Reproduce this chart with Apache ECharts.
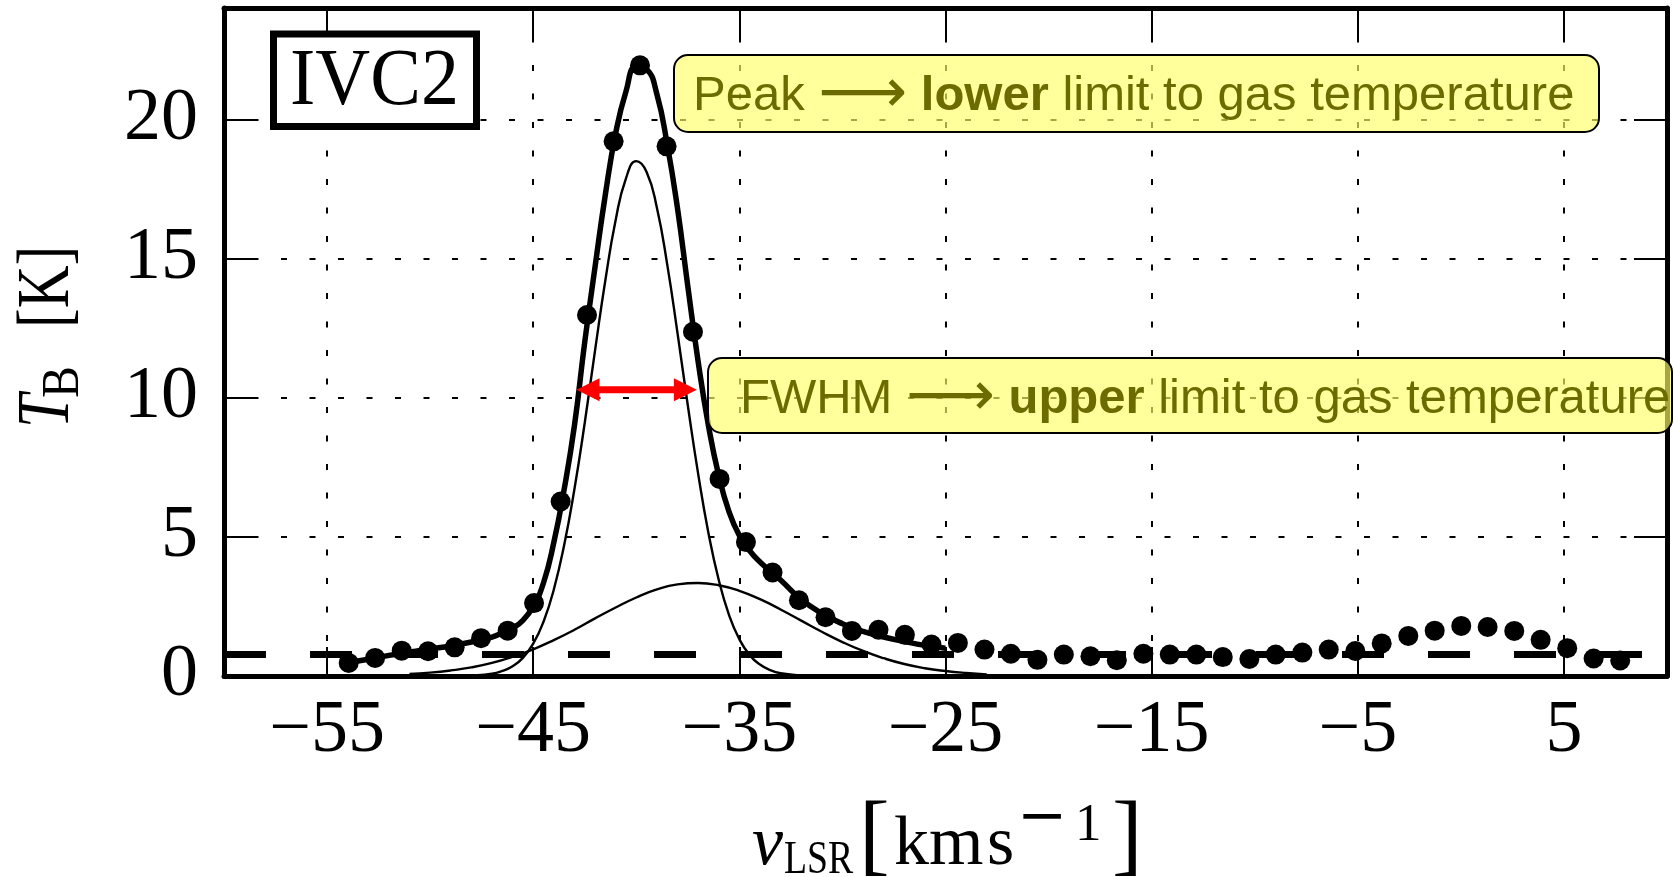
<!DOCTYPE html>
<html>
<head>
<meta charset="utf-8">
<script src="https://cdn.jsdelivr.net/npm/echarts@6/dist/echarts.min.js"></script>
<style>
  html, body { margin: 0; padding: 0; background: #ffffff; }
  #chart { width: 1674px; height: 877px; }
</style>
</head>
<body>
<div id="chart"></div>
<script>
// HI emission profile towards IVC2 with its two-component Gaussian decomposition

// Observed channels: LSR velocity [km/s] and brightness temperature [K]
const velocity = [
  -53.95, -52.67, -51.38, -50.10, -48.81, -47.53, -46.24, -44.96, -43.67, -42.39,
  -41.10, -39.82, -38.53, -37.25, -35.96, -34.68, -33.39, -32.11, -30.82, -29.54,
  -28.25, -26.97, -25.68, -24.40, -23.11, -21.83, -20.54, -19.26, -17.97, -16.69,
  -15.40, -14.12, -12.83, -11.55, -10.26, -8.98, -7.69, -6.41, -5.12, -3.84,
  -2.55, -1.27, 0.02, 1.30, 2.59, 3.87, 5.16, 6.44, 7.73
];
const brightness = [
  0.47, 0.65, 0.91, 0.89, 1.03, 1.36, 1.63, 2.62, 6.27, 12.97,
  19.21, 21.94, 19.03, 12.37, 7.08, 4.81, 3.72, 2.72, 2.11, 1.62,
  1.66, 1.48, 1.13, 1.19, 0.95, 0.80, 0.58, 0.77, 0.71, 0.57,
  0.80, 0.77, 0.77, 0.68, 0.61, 0.77, 0.84, 0.95, 0.90, 1.17,
  1.44, 1.63, 1.80, 1.76, 1.62, 1.30, 1.00, 0.63, 0.56
];

// Total fitted profile (thick curve)
const totalFitVelocity = [
  -54, -53, -52, -51, -50, -49, -48, -47, -46.5, -46, -45.5, -45, -44.5, -44,
  -43.5, -43, -42.5, -42, -41.5, -41, -40.5, -40, -39.5, -39, -38.5, -38, -37.5,
  -37, -36.5, -36, -35.5, -35, -34.5, -34, -33, -32, -31, -30, -29, -28, -27, -26, -25
];
const totalFit = [
  0.48, 0.60, 0.74, 0.86, 0.97, 1.08, 1.22, 1.40, 1.55, 1.72, 2.00, 2.50, 3.35, 4.80,
  6.70, 9.00, 12.0, 14.7, 17.3, 19.5, 21.0, 21.9, 21.8, 20.9, 19.1, 16.8, 14.0,
  11.3, 9.0, 7.2, 5.9, 5.05, 4.5, 4.1, 3.45, 2.75, 2.25, 1.88, 1.60, 1.40, 1.24, 1.10, 1.00
];

// Narrow (cold) component
const narrowVelocity = [
  -51, -50, -49, -48, -47, -46.5, -46, -45.5, -45, -44.5, -44, -43.5, -43, -42.5,
  -42, -41.5, -41, -40.5, -40, -39.5, -39, -38.5, -38, -37.5, -37, -36.5, -36,
  -35.5, -35, -34.5, -34, -33.5, -33, -32, -31
];
const narrowComponent = [
  0.00, 0.00, 0.00, 0.02, 0.08, 0.18, 0.35, 0.65, 1.16, 1.95, 3.11, 4.70, 6.72, 9.10,
  11.70, 14.22, 16.38, 17.88, 18.50, 18.11, 16.82, 14.79, 12.32, 9.72, 7.27, 5.14, 3.45,
  2.19, 1.32, 0.75, 0.41, 0.21, 0.10, 0.02, 0.00
];

// Broad (warm) component
const broadVelocity = [
  -51, -50, -49, -48, -47, -46, -45, -44, -43, -42, -41, -40, -39, -38, -37,
  -36, -35, -34, -33, -32, -31, -30, -29, -28, -27, -26, -25, -24, -23
];
const broadComponent = [
  0.07, 0.12, 0.20, 0.31, 0.47, 0.69, 0.96, 1.29, 1.66, 2.07, 2.46, 2.82, 3.11, 3.29, 3.34,
  3.26, 3.06, 2.76, 2.39, 1.99, 1.59, 1.22, 0.90, 0.64, 0.43, 0.28, 0.18, 0.11, 0.06
];

// Baseline level and the FWHM marker (tips of the double arrow)
const baselineLevel = 0.77;
const fwhmLevel = 10.28;
const fwhmEnds = [-42.9, -37.06];

// Axes
const xRange = [-60, 10];
const yRange = [0, 24];
const xTickValues = [-55, -45, -35, -25, -15, -5, 5];
const yTickValues = [0, 5, 10, 15, 20];

const pairs = (xs, ys) => xs.map((x, i) => [x, ys[i]]);
const minusSign = v => (v < 0 ? '\u2212' + Math.abs(v) : String(v));

const serif = '"Liberation Serif", "Times New Roman", serif';
const sans = '"Liberation Sans", Arial, sans-serif';
const olive = '#6b6b00';
const boxFill = 'rgba(255,255,102,0.65)';

const frameLine = { show: true, onZero: false, lineStyle: { color: '#000', width: 5 } };
const gridDots = { show: true, lineStyle: { color: '#000', width: 2, type: [6, 22.5] } };

function label(text, x, y, font, extra) {
  return Object.assign({
    type: 'text', x: x, y: y,
    style: { text: text, font: font, fill: '#000',
             align: 'left', textAlign: 'left', verticalAlign: 'middle', textVerticalAlign: 'middle' }
  }, extra || {});
}

function noteText(text, x, y) {
  return {
    type: 'text', z: 101, x: x, y: y,
    style: {
      text: text, font: '49px ' + sans, fill: olive,
      align: 'left', textAlign: 'left', verticalAlign: 'middle', textVerticalAlign: 'middle',
      rich: {
        a: { fontFamily: '"DejaVu Sans"', fontSize: 62, fill: olive, color: olive },
        b: { fontFamily: sans, fontSize: 49, fontWeight: 'bold', fill: olive, color: olive }
      }
    }
  };
}

const chart = echarts.init(document.getElementById('chart'), null, { renderer: 'canvas' });

const option = {
  animation: false,
  backgroundColor: '#ffffff',
  grid: { left: 224, right: 7, top: 8, bottom: 201, show: false },
  xAxis: [
    {
      type: 'value', position: 'bottom', min: xRange[0], max: xRange[1],
      axisLine: frameLine,
      axisTick: { show: true, inside: true, length: 29, customValues: xTickValues,
                  lineStyle: { color: '#000', width: 2 } },
      axisLabel: { show: true, customValues: xTickValues, formatter: minusSign,
                   fontFamily: serif, fontSize: 74, color: '#000', margin: 19 },
      splitLine: gridDots
    },
    {
      type: 'value', position: 'top', min: xRange[0], max: xRange[1],
      axisLine: frameLine,
      axisTick: { show: true, inside: true, length: 29, customValues: xTickValues,
                  lineStyle: { color: '#000', width: 2 } },
      axisLabel: { show: false },
      splitLine: { show: false }
    }
  ],
  yAxis: [
    {
      type: 'value', position: 'left', min: yRange[0], max: yRange[1], interval: 5,
      axisLine: frameLine,
      axisTick: { show: true, inside: true, length: 33, customValues: yTickValues,
                  lineStyle: { color: '#000', width: 2 } },
      axisLabel: { show: true, customValues: yTickValues, fontFamily: serif,
                   fontSize: 74, color: '#000', margin: 26 },
      splitLine: gridDots
    },
    {
      type: 'value', position: 'right', min: yRange[0], max: yRange[1], interval: 5,
      axisLine: frameLine,
      axisTick: { show: true, inside: true, length: 33, customValues: yTickValues,
                  lineStyle: { color: '#000', width: 2 } },
      axisLabel: { show: false },
      splitLine: { show: false }
    }
  ],
  series: [
    {
      name: 'broad', type: 'line', data: pairs(broadVelocity, broadComponent),
      smooth: true, showSymbol: false, z: 2,
      lineStyle: { color: '#000', width: 2.4 },
      markLine: {
        silent: true, symbol: ['none', 'none'], label: { show: false },
        lineStyle: { color: '#000', width: 7, type: [42, 44] },
        emphasis: { disabled: true },
        data: [{ yAxis: baselineLevel }]
      }
    },
    {
      name: 'narrow', type: 'line', data: pairs(narrowVelocity, narrowComponent),
      smooth: true, showSymbol: false, z: 2,
      lineStyle: { color: '#000', width: 2.4 }
    },
    {
      name: 'total', type: 'line', data: pairs(totalFitVelocity, totalFit),
      smooth: true, showSymbol: false, z: 3,
      lineStyle: { color: '#000', width: 5.5 }
    },
    {
      name: 'data', type: 'scatter', data: pairs(velocity, brightness),
      symbol: 'circle', symbolSize: 20, z: 4,
      itemStyle: { color: '#000', opacity: 1 }
    },
    {
      name: 'fwhm', type: 'custom', z: 5,
      encode: { x: [0, 1], y: 2 },
      data: [[fwhmEnds[0], fwhmEnds[1], fwhmLevel]],
      renderItem: function (params, api) {
        const a = api.coord([api.value(0), api.value(2)]);
        const b = api.coord([api.value(1), api.value(2)]);
        const head = 23, half = 11.5;
        const red = '#ff0000';
        return {
          type: 'group',
          children: [
            { type: 'line', shape: { x1: a[0] + head - 2, y1: a[1], x2: b[0] - head + 2, y2: b[1] },
              style: { stroke: red, lineWidth: 7 } },
            { type: 'polygon', shape: { points: [[a[0], a[1]], [a[0] + head, a[1] - half], [a[0] + head, a[1] + half]] },
              style: { fill: red } },
            { type: 'polygon', shape: { points: [[b[0], b[1]], [b[0] - head, b[1] - half], [b[0] - head, b[1] + half]] },
              style: { fill: red } }
          ]
        };
      }
    }
  ],
  graphic: [
    // Source name box
    { type: 'rect', z: 100, shape: { x: 273.5, y: 34, width: 203, height: 92.5 },
      style: { fill: '#ffffff', stroke: '#000', lineWidth: 7 } },
    { type: 'text', z: 101, x: 374.5, y: 83, scaleX: 0.95,
      style: { text: 'IVC2', font: '80px ' + serif, fill: '#000',
               align: 'center', textAlign: 'center', verticalAlign: 'middle', textVerticalAlign: 'middle' } },

    // Annotation boxes
    { type: 'rect', z: 100, shape: { x: 674, y: 55, width: 925, height: 77, r: 14 },
      style: { fill: boxFill, stroke: '#000', lineWidth: 2 } },
    noteText('Peak {a|\u27F6} {b|lower} limit to gas temperature', 693, 96),
    { type: 'rect', z: 100, shape: { x: 708, y: 358, width: 964, height: 75, r: 14 },
      style: { fill: boxFill, stroke: '#000', lineWidth: 2 } },
    noteText('FWHM {a|\u27F6} {b|upper} limit to gas temperature', 740, 399),

    // y-axis title: T_B [K]
    label('T', 49, 428, 'italic 74px ' + serif, { rotation: Math.PI / 2, scaleX: 0.82 }),
    label('B', 64, 398, '53px ' + serif, { rotation: Math.PI / 2, scaleX: 0.9 }),
    label('[K]', 49, 328, '74px ' + serif, { rotation: Math.PI / 2, scaleX: 0.8 }),

    // x-axis title: v_LSR [km s^-1]
    label('v', 752, 846, 'italic 70px ' + serif),
    label('LSR', 784, 861, '46px ' + serif, { scaleX: 0.82 }),
    label('[', 859, 840, '92px ' + serif),
    label('km', 894, 846, '70px ' + serif),
    label('s', 987, 846, '70px ' + serif),
    label('\u2212', 1017, 819, '60px "DejaVu Serif"'),
    label('1', 1075, 826, '53px ' + serif),
    label(']', 1112, 840, '92px ' + serif)
  ]
};

chart.setOption(option);
</script>
</body>
</html>
